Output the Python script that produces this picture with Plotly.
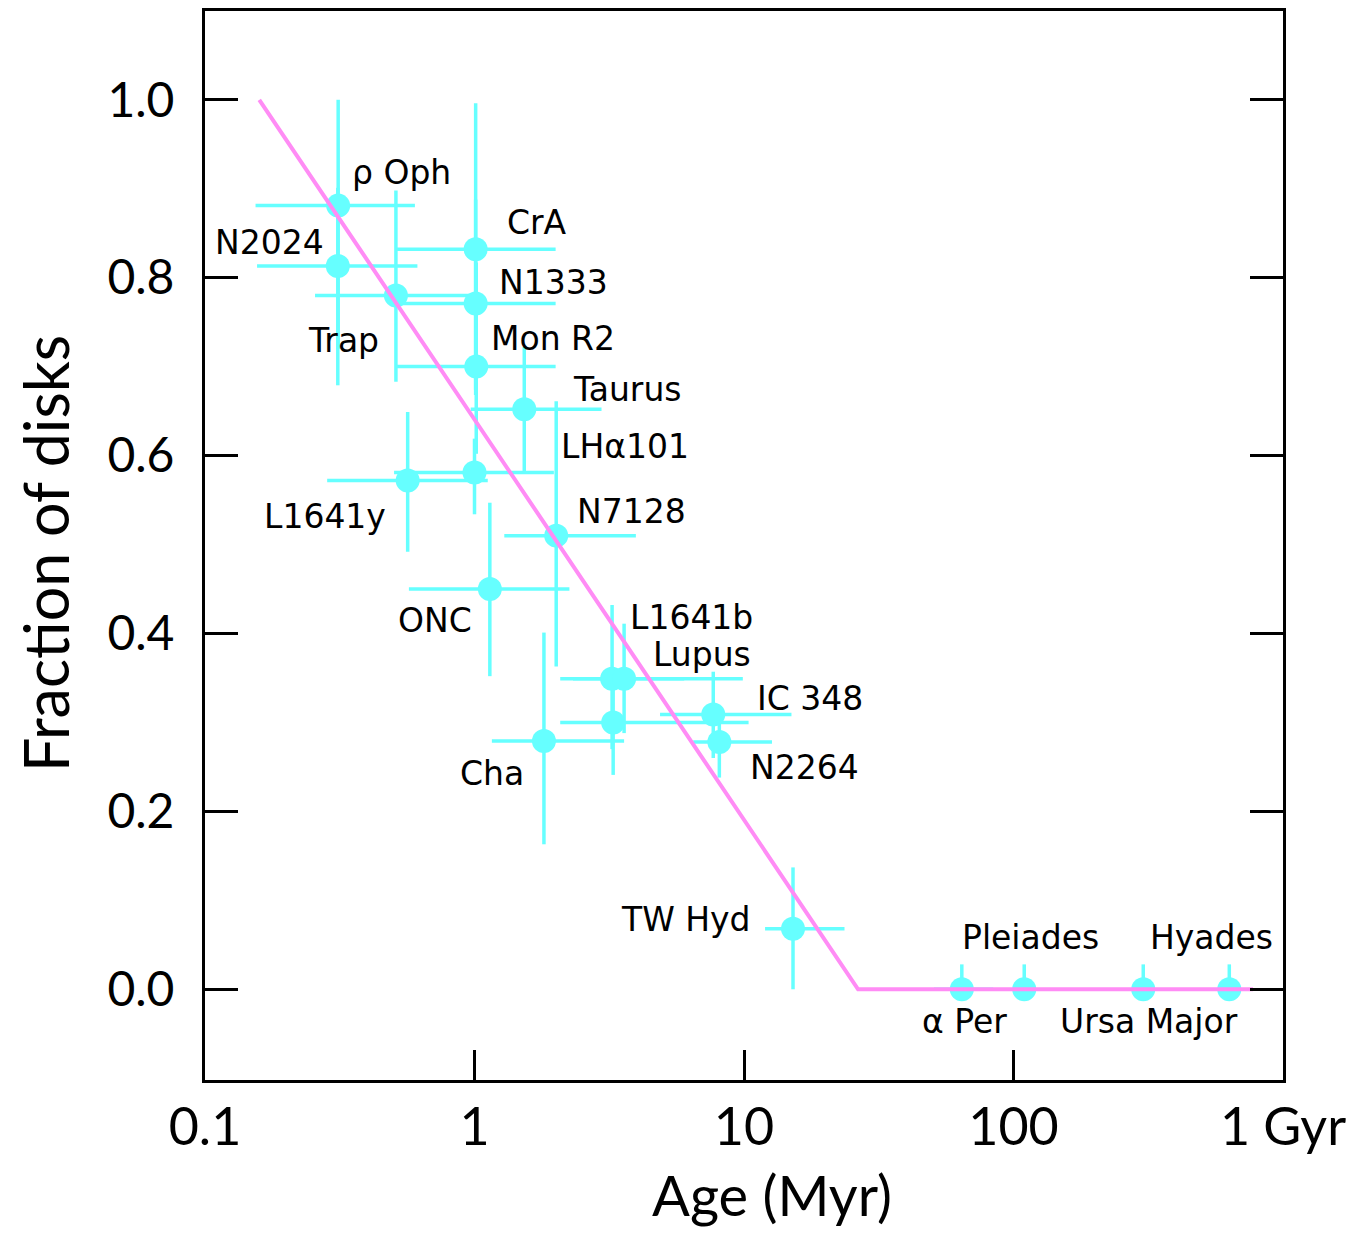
import math
import plotly.graph_objects as go

# ---- data ----
names = ["ρ Oph", "N2024", "Trap", "CrA", "N1333", "Mon R2", "Taurus", "LHα101",
         "L1641y", "N7128", "ONC", "L1641b", "Lupus", "", "Cha", "IC 348", "N2264",
         "TW Hyd", "α Per", "Pleiades", "Ursa Major", "Hyades"]
age = [0.312, 0.311, 0.511, 1.01, 1.01, 1.015, 1.53, 1.0,
       0.565, 2.01, 1.14, 3.24, 3.59, 3.27, 1.81, 7.69, 8.1,
       15.2, 64.3, 109.6, 303, 632]
age_lo = [0.154, 0.156, 0.256, 0.515, 0.52, 0.515, 0.968, 0.503,
          0.284, 1.29, 0.571, 2.08, 2.32, 2.08, 1.16, 4.88, 6.48,
          11.97, 50.7, 109.6, 303, 632]
age_hi = [0.601, 0.614, 0.96, 2.0, 2.0, 2.0, 2.96, 1.97,
          1.12, 3.97, 2.25, 6.0, 9.9, 10.4, 3.59, 15.0, 12.7,
          23.6, 84.1, 109.6, 303, 632]
frac = [0.881, 0.813, 0.780, 0.832, 0.771, 0.700, 0.652, 0.581,
        0.572, 0.510, 0.450, 0.349, 0.349, 0.300, 0.279, 0.309, 0.278,
        0.068, 0.0, 0.0, 0.0, 0.0]
frac_lo = [0.72, 0.679, 0.683, 0.668, 0.674, 0.602, 0.582, 0.534,
           0.492, 0.363, 0.352, 0.27, 0.288, 0.241, 0.163, 0.26, 0.238,
           0.0, 0.0, 0.0, 0.0, 0.0]
frac_hi = [1.0, 0.901, 0.898, 0.996, 0.888, 0.817, 0.722, 0.619,
           0.649, 0.661, 0.547, 0.432, 0.411, 0.36, 0.401, 0.357, 0.317,
           0.137, 0.028, 0.028, 0.028, 0.028]

# label offsets from each point, in pixels (dx right, dy up)
label_dx = [63, -68, -52, 61, 78, 77, 103, 150, -83, 75, -55, 79, 78, 0, -52, 97, 85, -107, 3, 6, 6, -18]
label_dy = [33, 24, -45, 27, 21, 28, 20, 26, -36, 24, -31, 61, 24, 0, -32, 16, -26, 9, -32, 52, -32, 52]

# fit line
fit_age = [0.159, 26.5, 774]
fit_frac = [1.0, 0.0, 0.0]

x_ticks = [0.1, 1, 10, 100, 1000]
x_ticktext = ["0.1", "1", "10", "100", "1 Gyr"]
y_ticks = [0.0, 0.2, 0.4, 0.6, 0.8, 1.0]
y_ticktext = ["0.0", "0.2", "0.4", "0.6", "0.8", "1.0"]

CYAN = "#66ffff"
PINK = "#ff8cf5"

fig = go.Figure()
fig.add_trace(go.Scatter(
    x=age, y=frac, mode="markers",
    marker=dict(size=24, color=CYAN, line=dict(width=0)),
    error_x=dict(type="data", symmetric=False,
                 array=[h - a for h, a in zip(age_hi, age)],
                 arrayminus=[a - l for a, l in zip(age, age_lo)],
                 color=CYAN, thickness=3.5, width=0),
    error_y=dict(type="data", symmetric=False,
                 array=[h - f for h, f in zip(frac_hi, frac)],
                 arrayminus=[f - l for f, l in zip(frac, frac_lo)],
                 color=CYAN, thickness=3.5, width=0),
    showlegend=False, hoverinfo="skip"))
fig.add_trace(go.Scatter(x=fit_age, y=fit_frac, mode="lines",
                         line=dict(color=PINK, width=4), showlegend=False))

for n, a, f, dx, dy in zip(names, age, frac, label_dx, label_dy):
    if not n:
        continue
    fig.add_annotation(x=math.log10(a), y=f, xref="x", yref="y",
                       text=n, showarrow=False, xshift=dx, yshift=dy,
                       font=dict(family="DejaVu Sans", size=33, color="black"))

fig.add_annotation(xref="paper", yref="paper", x=0.526, y=-0.1405, text="Age (Myr)",
                   xanchor="center", yanchor="bottom",
                   showarrow=False, font=dict(family="Lato", size=56, color="black"))
fig.add_annotation(xref="paper", yref="paper", x=-0.148, y=0.4925, text="Fraction of disks",
                   xanchor="center", yanchor="middle",
                   textangle=-90, showarrow=False,
                   font=dict(family="Lato", size=61, color="black"))

fig.update_layout(
    width=1345, height=1225,
    margin=dict(l=197, r=70, t=0, b=153),
    plot_bgcolor="white", paper_bgcolor="white",
    xaxis=dict(type="log", range=[-1, 3], tickvals=x_ticks, ticktext=x_ticktext,
               ticks="inside", ticklen=30, tickwidth=3, tickcolor="black",
               showline=True, linewidth=3, linecolor="black", mirror=True,
               showgrid=False, zeroline=False,
               tickfont=dict(family="Lato", size=52, color="black")),
    yaxis=dict(range=[-0.102, 1.0998], tickvals=y_ticks, ticktext=y_ticktext,
               ticks="inside", ticklen=33, tickwidth=3, tickcolor="black",
               showline=True, linewidth=3, linecolor="black", mirror="allticks",
               showgrid=False, zeroline=False, ticklabelstandoff=18,
               tickfont=dict(family="Lato", size=48, color="black")),
)

fig.write_html("out.html")
